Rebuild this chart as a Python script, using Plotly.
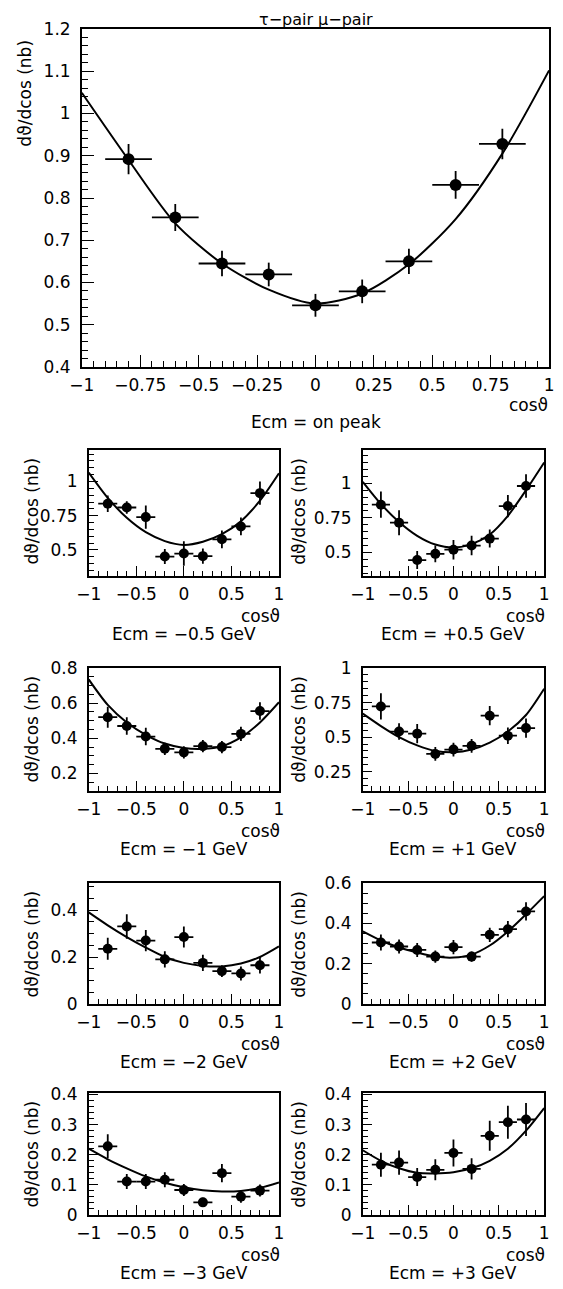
import plotly.graph_objects as go

# The page body has an 8px margin, so the figure is drawn 8px in from the window's corner,
# and only about 555px of the window's width is visible in the photograph.
OFF = 8
VIS_W = 555
W, H = VIS_W - OFF, 1289 - OFF
SX = VIS_W / 563.0  # squeeze the reference's horizontal layout into the visible width

# ---------------- data ----------------
cos_bins = [-0.8, -0.6, -0.4, -0.2, 0.0, 0.2, 0.4, 0.6, 0.8]
bin_half_width = [0.1] * 9
curve_x = [-1.0, -0.8, -0.6, -0.4, -0.2, 0.0, 0.2, 0.4, 0.6, 0.8, 1.0]

peak_y = [0.892, 0.754, 0.645, 0.619, 0.546, 0.579, 0.650, 0.831, 0.928]
peak_err = [0.036, 0.032, 0.030, 0.028, 0.027, 0.028, 0.030, 0.033, 0.036]
peak_fit = [1.049, 0.890, 0.740, 0.645, 0.583, 0.550, 0.574, 0.643, 0.750, 0.905, 1.102]

m05_y = [0.838, 0.810, 0.740, 0.452, 0.474, 0.455, 0.578, 0.672, 0.915]
m05_err = [0.060, 0.045, 0.085, 0.055, 0.090, 0.055, 0.065, 0.065, 0.085]
m05_fit = [1.065, 0.880, 0.735, 0.630, 0.565, 0.537, 0.560, 0.615, 0.710, 0.860, 1.060]

p05_y = [0.845, 0.715, 0.445, 0.490, 0.520, 0.550, 0.600, 0.835, 0.980]
p05_err = [0.095, 0.090, 0.065, 0.060, 0.070, 0.070, 0.065, 0.080, 0.085]
p05_fit = [1.010, 0.850, 0.720, 0.620, 0.557, 0.535, 0.560, 0.630, 0.765, 0.950, 1.150]

m1_y = [0.520, 0.470, 0.410, 0.340, 0.320, 0.355, 0.350, 0.425, 0.555]
m1_err = [0.060, 0.050, 0.050, 0.035, 0.035, 0.035, 0.035, 0.040, 0.050]
m1_fit = [0.735, 0.590, 0.490, 0.420, 0.370, 0.345, 0.340, 0.355, 0.405, 0.490, 0.605]

p1_y = [0.722, 0.540, 0.525, 0.378, 0.410, 0.437, 0.655, 0.510, 0.565]
p1_err = [0.095, 0.060, 0.070, 0.050, 0.050, 0.050, 0.070, 0.060, 0.070]
p1_fit = [0.670, 0.580, 0.500, 0.440, 0.400, 0.390, 0.410, 0.460, 0.540, 0.660, 0.850]

m2_y = [0.235, 0.330, 0.270, 0.190, 0.285, 0.175, 0.140, 0.130, 0.165]
m2_err = [0.047, 0.052, 0.045, 0.035, 0.045, 0.035, 0.025, 0.030, 0.035]
m2_fit = [0.390, 0.335, 0.285, 0.240, 0.200, 0.175, 0.162, 0.160, 0.172, 0.200, 0.245]

p2_y = [0.305, 0.285, 0.268, 0.235, 0.282, 0.235, 0.343, 0.371, 0.459]
p2_err = [0.040, 0.035, 0.035, 0.030, 0.035, 0.025, 0.035, 0.040, 0.045]
p2_fit = [0.360, 0.315, 0.280, 0.255, 0.235, 0.230, 0.245, 0.290, 0.360, 0.445, 0.535]

m3_y = [0.228, 0.111, 0.111, 0.117, 0.083, 0.042, 0.139, 0.061, 0.081]
m3_err = [0.040, 0.025, 0.025, 0.025, 0.020, 0.015, 0.030, 0.020, 0.020]
m3_fit = [0.220, 0.185, 0.155, 0.128, 0.107, 0.092, 0.082, 0.078, 0.080, 0.090, 0.108]

p3_y = [0.167, 0.174, 0.126, 0.150, 0.206, 0.153, 0.263, 0.308, 0.317]
p3_err = [0.040, 0.040, 0.030, 0.035, 0.045, 0.035, 0.050, 0.055, 0.055]
p3_fit = [0.215, 0.180, 0.155, 0.140, 0.138, 0.142, 0.155, 0.180, 0.220, 0.280, 0.355]

# tick labels
big_x_ticks = [-1, -0.75, -0.5, -0.25, 0, 0.25, 0.5, 0.75, 1]
big_x_text = ["\u22121", "\u22120.75", "\u22120.5", "\u22120.25", "0", "0.25", "0.5", "0.75", "1"]
big_y_ticks = [0.4, 0.5, 0.6, 0.7, 0.8, 0.9, 1.0, 1.1, 1.2]
big_y_text = ["0.4", "0.5", "0.6", "0.7", "0.8", "0.9", "1", "1.1", "1.2"]
small_x_ticks = [-1, -0.5, 0, 0.5, 1]
small_x_text = ["\u22121", "\u22120.5", "0", "0.5", "1"]

title_text = "\u03c4\u2212pair \u03bc\u2212pair"
ytitle_text = "d\u03d1/dcos (nb)"
xtitle_text = "cos\u03d1"

panels = [
    # label, y, err, fit, yrange, yticks, yticktext, minor dtick
    ("Ecm = on peak", peak_y, peak_err, peak_fit, [0.4, 1.2], big_y_ticks, big_y_text, 0.02),
    ("Ecm = \u22120.5 GeV", m05_y, m05_err, m05_fit, [0.31, 1.23], [0.5, 0.75, 1.0], ["0.5", "0.75", "1"], 0.05),
    ("Ecm = +0.5 GeV", p05_y, p05_err, p05_fit, [0.33, 1.24], [0.5, 0.75, 1.0], ["0.5", "0.75", "1"], 0.05),
    ("Ecm = \u22121 GeV", m1_y, m1_err, m1_fit, [0.1, 0.8], [0.2, 0.4, 0.6, 0.8], ["0.2", "0.4", "0.6", "0.8"], 0.05),
    ("Ecm = +1 GeV", p1_y, p1_err, p1_fit, [0.11, 1.0], [0.25, 0.5, 0.75, 1.0], ["0.25", "0.5", "0.75", "1"], 0.05),
    ("Ecm = \u22122 GeV", m2_y, m2_err, m2_fit, [0.0, 0.515], [0.0, 0.2, 0.4], ["0", "0.2", "0.4"], 0.05),
    ("Ecm = +2 GeV", p2_y, p2_err, p2_fit, [0.0, 0.6], [0.0, 0.2, 0.4, 0.6], ["0", "0.2", "0.4", "0.6"], 0.05),
    ("Ecm = \u22123 GeV", m3_y, m3_err, m3_fit, [0.0, 0.405], [0.0, 0.1, 0.2, 0.3, 0.4], ["0", "0.1", "0.2", "0.3", "0.4"], 0.02),
    ("Ecm = +3 GeV", p3_y, p3_err, p3_fit, [0.0, 0.405], [0.0, 0.1, 0.2, 0.3, 0.4], ["0", "0.1", "0.2", "0.3", "0.4"], 0.02),
]

# ---------------- layout geometry (reference pixels) ----------------
top_box = (83, 557, 29, 367)
col_x = [(90, 283), (368, 552)]
row_y = [(450, 576), (668, 791), (883, 1004), (1093, 1215)]
boxes = [top_box]
for r in range(4):
    for c in range(2):
        boxes.append((col_x[c][0], col_x[c][1], row_y[r][0], row_y[r][1]))


def px(x):
    return (x * SX - OFF) / W


def py(y):
    return 1 - (y - OFF) / H


FONT = "DejaVu Sans"
fig = go.Figure()
annotations = []

for i, (label, yv, ye, fit, yr, ytv, ytt, ymin) in enumerate(panels):
    x0, x1, y0, y1 = boxes[i]
    xa = "x" if i == 0 else f"x{i+1}"
    ya = "y" if i == 0 else f"y{i+1}"
    big = i == 0
    msize = 12 if big else 10
    fig.add_trace(go.Scatter(
        x=curve_x, y=fit, mode="lines", line=dict(color="black", width=2, shape="spline", smoothing=0.8),
        xaxis=xa, yaxis=ya, hoverinfo="skip"))
    fig.add_trace(go.Scatter(
        x=cos_bins, y=yv, mode="markers",
        marker=dict(color="black", size=msize),
        error_y=dict(type="data", array=ye, color="black", thickness=1.8, width=0),
        error_x=dict(type="data", array=bin_half_width, color="black", thickness=1.8, width=0),
        xaxis=xa, yaxis=ya))

    xkey = "xaxis" if i == 0 else f"xaxis{i+1}"
    ykey = "yaxis" if i == 0 else f"yaxis{i+1}"
    common = dict(showline=True, mirror=True, linecolor="black", linewidth=1.6,
                  ticks="inside", tickcolor="black", tickwidth=1.3, automargin=False,
                  showgrid=False, zeroline=False, tickfont=dict(family=FONT, size=17, color="black"))
    fig.update_layout(**{
        xkey: dict(domain=[px(x0), px(x1)], anchor=ya, range=[-1, 1],
                   tickmode="array",
                   tickvals=big_x_ticks if big else small_x_ticks,
                   ticktext=big_x_text if big else small_x_text,
                   ticklen=12 if big else 10,
                   ticklabelstandoff=2,
                   minor=dict(ticks="inside", tickmode="linear", tick0=0,
                              dtick=0.05 if big else 0.1, ticklen=6 if big else 5,
                              tickcolor="black", tickwidth=1.2),
                   **common),
        ykey: dict(domain=[py(y1), py(y0)], anchor=xa, range=yr,
                   tickmode="array", tickvals=ytv, ticktext=ytt,
                   ticklen=12 if big else 9,
                   ticklabelstandoff=6,
                   minor=dict(ticks="inside", tickmode="linear", tick0=0, dtick=ymin,
                              ticklen=6 if big else 5, tickcolor="black", tickwidth=1.2),
                   **common),
    })

    # texts
    cx = (x0 + x1) / 2
    if big:
        annotations.append(dict(text=xtitle_text, x=px(x1 + 1), y=py(405), xanchor="right", yanchor="middle"))
        annotations.append(dict(text=label, x=px(321), y=py(422), xanchor="center", yanchor="middle"))
        annotations.append(dict(text=ytitle_text, x=px(25), y=py(y0 + 64), textangle=-90,
                                xanchor="center", yanchor="middle"))
    else:
        annotations.append(dict(text=xtitle_text, x=px(x1 + 3), y=py(y1 + 40), xanchor="right", yanchor="middle"))
        annotations.append(dict(text=label, x=px(cx), y=py(y1 + 58), xanchor="center", yanchor="middle"))
        tx = 32 if x0 < 200 else 303
        annotations.append(dict(text=ytitle_text, x=px(tx), y=py(y0 + 61), textangle=-90,
                                xanchor="center", yanchor="middle"))

annotations.append(dict(text=title_text, x=px(321), y=py(19), xanchor="center", yanchor="middle",
                        font=dict(family=FONT, size=16, color="black")))

for a in annotations:
    a.update(xref="paper", yref="paper", showarrow=False)
    if "font" not in a:
        a["font"] = dict(family=FONT, size=17, color="black")

fig.update_layout(template="none", width=W, height=H, margin=dict(l=0, r=0, t=0, b=0, autoexpand=False),
                  paper_bgcolor="white", plot_bgcolor="white", showlegend=False,
                  annotations=annotations)

fig.write_html("out.html")
